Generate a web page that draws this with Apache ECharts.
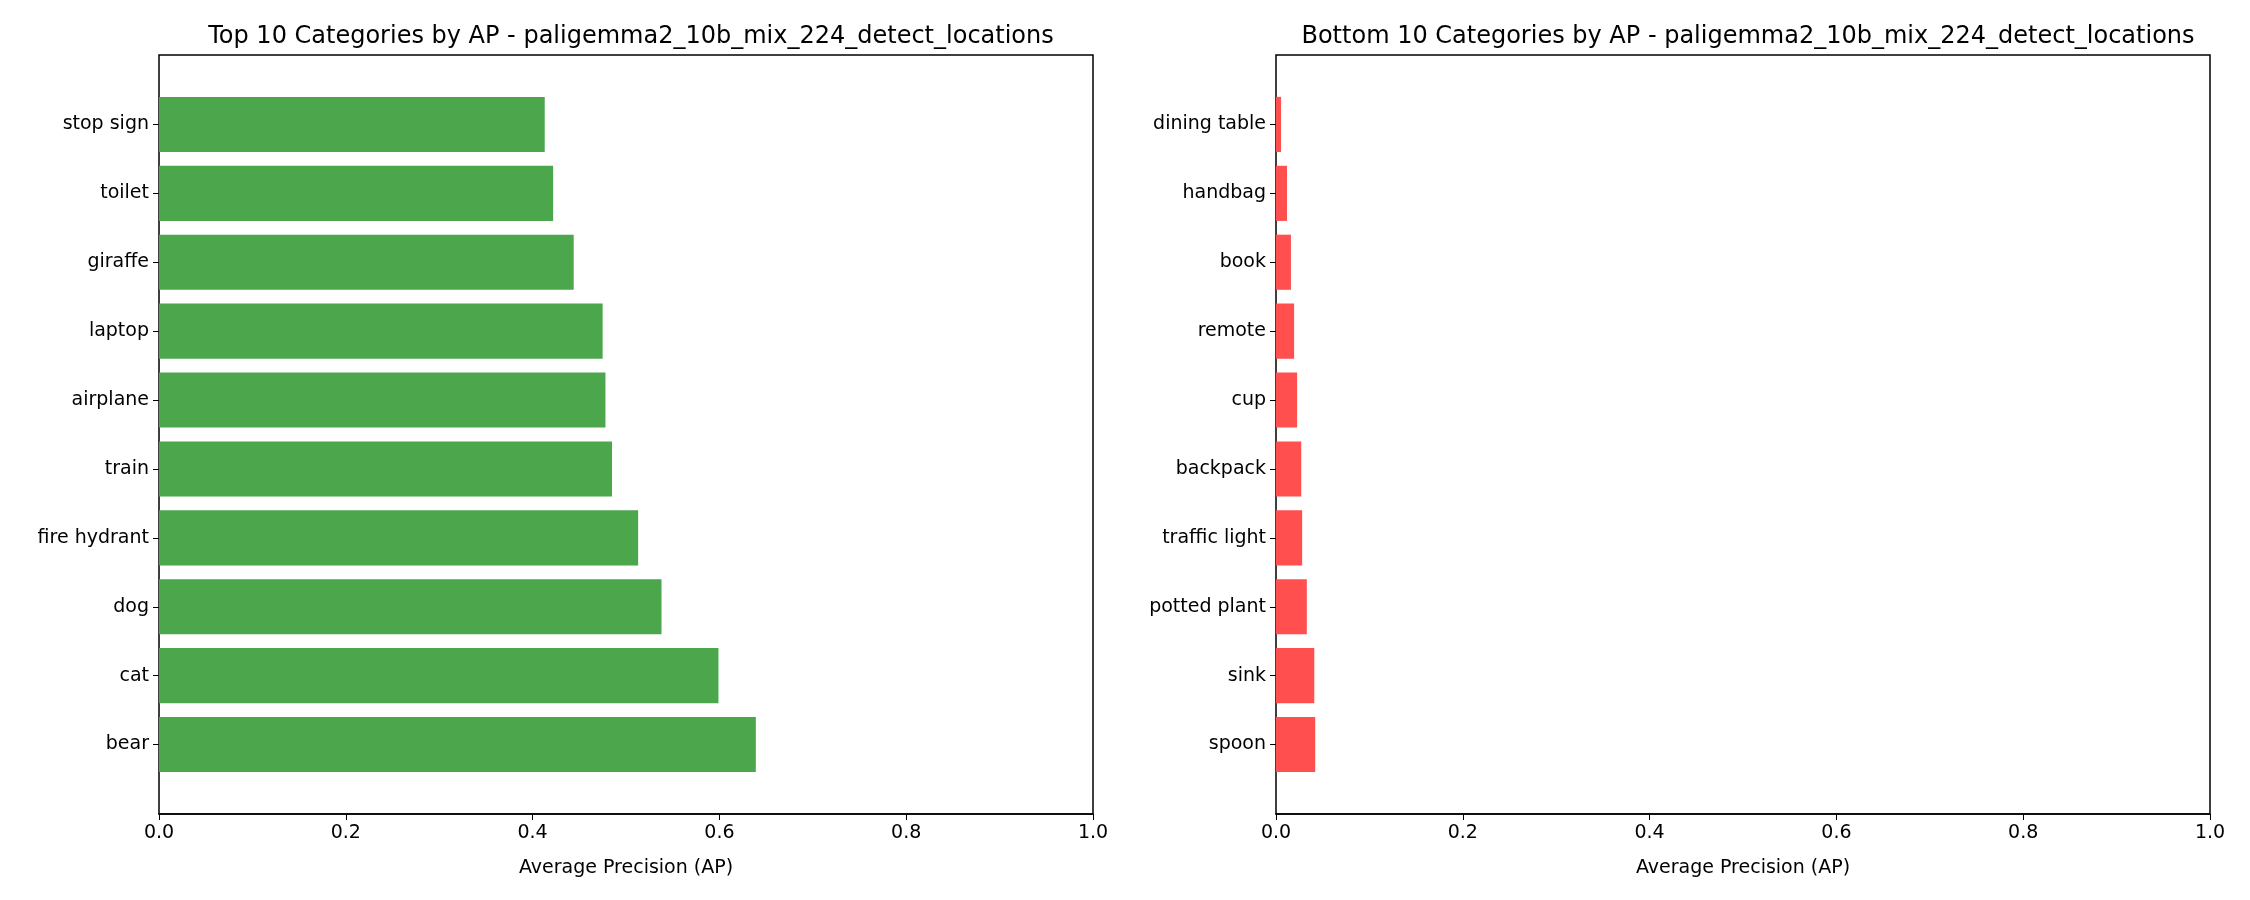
<!DOCTYPE html>
<html><head><meta charset="utf-8">
<script src="https://cdn.jsdelivr.net/npm/echarts@6/dist/echarts.min.js"></script>
<style>html,body{margin:0;background:#fff}#c{width:2250px;height:900px}</style>
</head><body><div id="c"></div>
<script>
// bottom-to-top order matches matplotlib barh
var topCats = ['bear', 'cat', 'dog', 'fire hydrant', 'train', 'airplane', 'laptop', 'giraffe', 'toilet', 'stop sign'];
var topVals = [0.639, 0.599, 0.538, 0.513, 0.485, 0.478, 0.475, 0.444, 0.422, 0.413];
var botCats = ['spoon', 'sink', 'potted plant', 'traffic light', 'backpack', 'cup', 'remote', 'book', 'handbag', 'dining table'];
var botVals = [0.042, 0.041, 0.033, 0.028, 0.027, 0.0226, 0.0194, 0.016, 0.0118, 0.0054];
var xTicks = [0, 0.2, 0.4, 0.6, 0.8, 1.0];

var font = 'DejaVu Sans';
var chart = echarts.init(document.getElementById('c'));
var panels = [
    {left: 159, right: 1157, cats: topCats, vals: topVals, color: '#4ca64c',
     title: 'Top 10 Categories by AP - paligemma2_10b_mix_224_detect_locations'},
    {left: 1276, right: 40, cats: botCats, vals: botVals, color: '#ff4f4f',
     title: 'Bottom 10 Categories by AP - paligemma2_10b_mix_224_detect_locations'}
];
var grid = [], xAxis = [], yAxis = [], series = [], title = [];
panels.forEach(function (p, i) {
    // frame grid (full axes box) and data grid (inset by matplotlib margins)
    grid.push({left: p.left, right: p.right, top: 55, bottom: 86, show: true, borderColor: '#000', borderWidth: 1.5, backgroundColor: 'transparent'});
    grid.push({left: p.left, right: p.right, top: 90, bottom: 121});
    xAxis.push({gridIndex: 2 * i, type: 'value', min: 0, max: 1, interval: 0.2,
        axisLine: {show: true, lineStyle: {color: '#000', width: 1.5}},
        axisTick: {show: true, length: 6, lineStyle: {color: '#000'}},
        splitLine: {show: false},
        axisLabel: {color: '#000', fontFamily: font, fontSize: 19, margin: 10,
            formatter: function (v) { return v.toFixed(1); }},
        name: 'Average Precision (AP)', nameLocation: 'middle', nameGap: 45,
        nameTextStyle: {color: '#000', fontFamily: font, fontSize: 19}});
    yAxis.push({gridIndex: 2 * i, type: 'value', min: 0, max: 1, show: false});
    xAxis.push({gridIndex: 2 * i + 1, type: 'value', min: 0, max: 1, show: false});
    yAxis.push({gridIndex: 2 * i + 1, type: 'category', data: p.cats,
        axisLine: {show: false},
        axisTick: {show: true, alignWithLabel: true, length: 6, lineStyle: {color: '#000'}},
        axisLabel: {color: '#000', fontFamily: font, fontSize: 19, margin: 10}});
    series.push({type: 'bar', xAxisIndex: 2 * i + 1, yAxisIndex: 2 * i + 1, data: p.vals,
        barCategoryGap: '20%', itemStyle: {color: p.color}, silent: true});
    title.push({text: p.title, left: i === 0 ? 626 : 1743, top: 20, textAlign: 'center',
        textStyle: {color: '#000', fontFamily: font, fontSize: 24, fontWeight: 'normal'}});
});
chart.setOption({animation: false, title: title, grid: grid, xAxis: xAxis, yAxis: yAxis, series: series});
</script></body></html>
